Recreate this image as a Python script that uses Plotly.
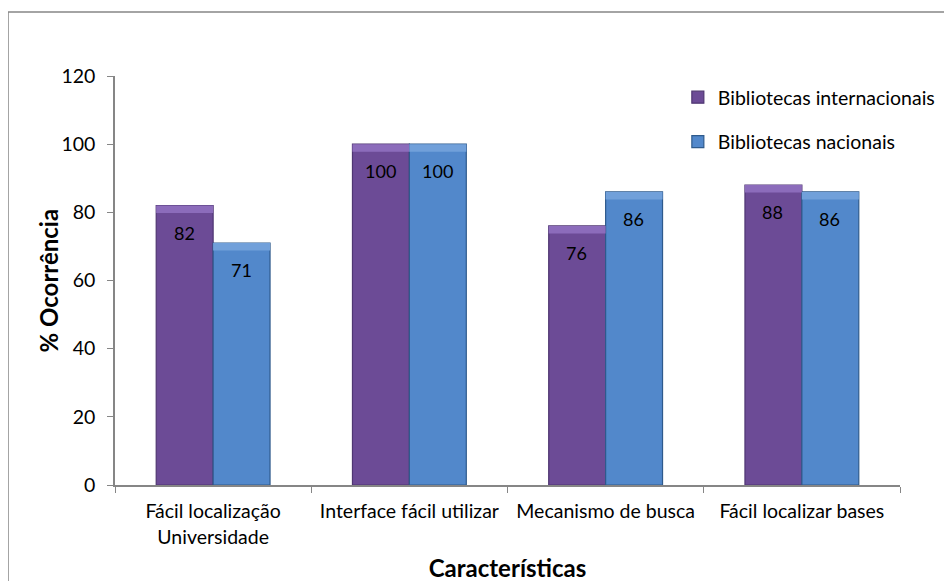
import plotly.graph_objects as go

categories = ["Fácil localização<br>Universidade", "Interface fácil utilizar", "Mecanismo de busca", "Fácil localizar bases"]
internacionais = [82, 100, 76, 88]
nacionais = [71, 100, 86, 86]
series_names = ["Bibliotecas internacionais", "Bibliotecas nacionais"]
y_ticks = [0, 20, 40, 60, 80, 100, 120]

FONT = "Lato"
CAP = 2.2  # height (in data units) of the lighter bevel strip on top of each bar

fig = go.Figure()
fig.add_trace(go.Bar(
    x=categories, y=internacionais, name=series_names[0], legendgroup="a", offsetgroup="a",
    marker=dict(color="#6C4B96", line=dict(color="#4F3672", width=1.2)),
))
fig.add_trace(go.Bar(
    x=categories, y=nacionais, name=series_names[1], legendgroup="b", offsetgroup="b",
    marker=dict(color="#5288CB", line=dict(color="#2E5A8C", width=1.2)),
))
# lighter bevel strips at the top of the bars
fig.add_trace(go.Bar(
    x=categories, y=[CAP] * len(internacionais), base=[v - CAP for v in internacionais],
    offsetgroup="a", showlegend=False, hoverinfo="skip",
    marker=dict(color="#8C6CBB", line=dict(color="#4F3672", width=0)),
))
fig.add_trace(go.Bar(
    x=categories, y=[CAP] * len(nacionais), base=[v - CAP for v in nacionais],
    offsetgroup="b", showlegend=False, hoverinfo="skip",
    marker=dict(color="#71A0DA", line=dict(color="#2E5A8C", width=0)),
))

# data labels inside the bar tops
for i, c in enumerate(categories):
    for vals, shift in ((internacionais, -29), (nacionais, 28)):
        fig.add_annotation(x=c, y=vals[i], text=str(vals[i]), showarrow=False,
                           xshift=shift, yshift=-27, font=dict(family=FONT, size=18, color="black"))

# y axis title
fig.add_annotation(x=0, y=0.5, xref="paper", yref="paper", xanchor="center", yanchor="middle",
                   xshift=-67, textangle=-90, showarrow=False, text="<b>% Ocorrência</b>",
                   font=dict(family=FONT, size=24, color="black"))

# outer chart border
fig.add_shape(type="rect", xref="paper", yref="paper",
              x0=-107 / 785, x1=1.2, y0=-0.4, y1=(477 - 4) / 409,
              line=dict(color="#878787", width=1.5), fillcolor="rgba(0,0,0,0)", layer="below")

fig.update_layout(
    width=952, height=581,
    margin=dict(l=107, r=60, t=68, b=104, autoexpand=False),
    paper_bgcolor="white", plot_bgcolor="white",
    barmode="group", bargap=0.42, bargroupgap=0,
    font=dict(family=FONT, size=19.5, color="black"),
    showlegend=True,
    legend=dict(x=0.717, y=0.995, xanchor="left", yanchor="top", bgcolor="rgba(0,0,0,0)",
                font=dict(family=FONT, size=19.5), tracegroupgap=16, traceorder="grouped",
                itemwidth=30),
    xaxis=dict(
        title=dict(text="<b>Características</b>", font=dict(family=FONT, size=24), standoff=14),
        showline=True, linecolor="#868686", linewidth=1.5,
        ticks="outside", tickson="boundaries", ticklen=6, tickcolor="#868686",
        tickfont=dict(family=FONT, size=19.5), showgrid=False, ticklabelstandoff=8,
    ),
    yaxis=dict(
        range=[0, 120], tickvals=y_ticks, showline=True, linecolor="#868686", linewidth=1.5,
        ticks="outside", ticklen=6, tickcolor="#868686", showgrid=False, zeroline=False,
        tickfont=dict(family=FONT, size=19.5), ticklabelstandoff=8,
    ),
)

fig.write_html("out.html")
